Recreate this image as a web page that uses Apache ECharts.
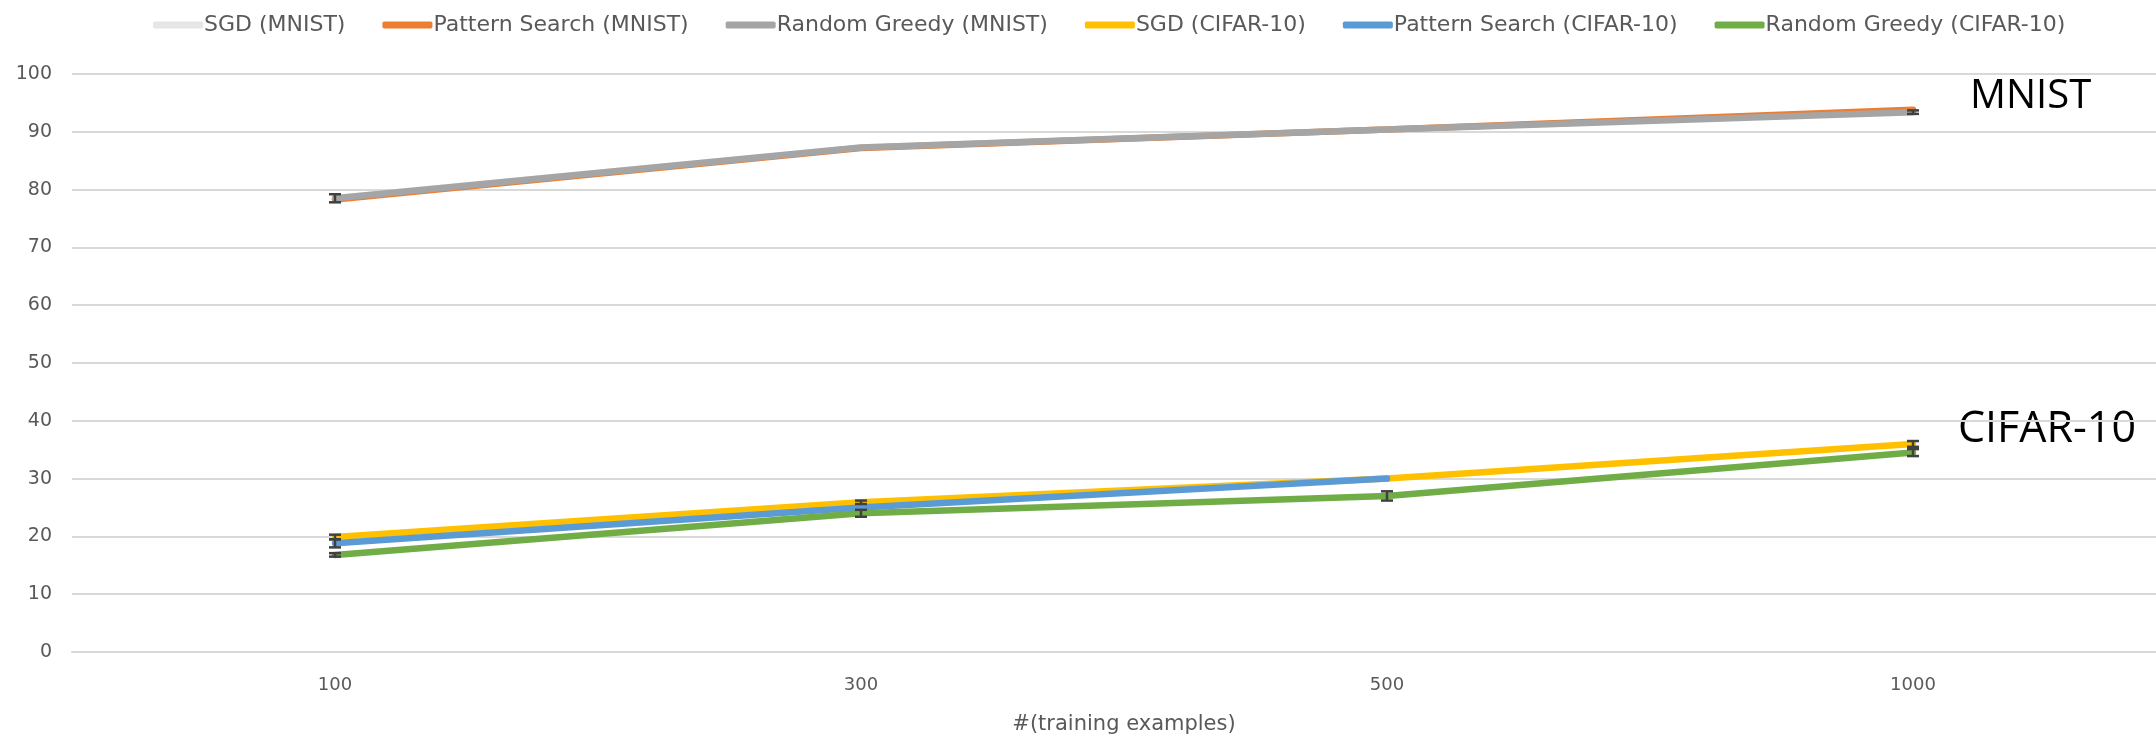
<!DOCTYPE html>
<html>
<head>
<meta charset="utf-8">
<script src="https://cdn.jsdelivr.net/npm/echarts@6/dist/echarts.min.js"></script>
<style>
  html, body { margin: 0; padding: 0; background: #fff; }
  #chart { width: 2156px; height: 737px; }
</style>
</head>
<body>
<div id="chart"></div>
<script>
// categories on the x axis
var sizes = ['100', '300', '500', '1000'];
var yTicks = [0, 10, 20, 30, 40, 50, 60, 70, 80, 90, 100];

// accuracy values
var sgdMnist = [78.5, 87.3, 90.4, 93.6];
var patternMnist = [78.3, 87.2, 90.4, 93.8];
var greedyMnist = [78.5, 87.3, 90.4, 93.4];
var sgdCifar = [19.9, 25.9, 30.0, 36.0];
var patternCifar = [18.8, 25.0, 30.0, null];
var greedyCifar = [16.8, 24.0, 27.0, 34.5];

// half-width of error bars (estimated)
var errGreedyMnist = [0.7, 0, 0, 0.3];
var errSgdCifar = [0.4, 0.3, 0, 0.5];
var errPatternCifar = [0.7, 0, 0, 0];
var errGreedyCifar = [0.3, 0.6, 0.8, 0.6];

var chart = echarts.init(document.getElementById('chart'));

var font = '"DejaVu Sans", sans-serif';
var noteFont = '"Open Sans", sans-serif';

function lineSeries(name, data, color) {
    return {
        name: name,
        type: 'line',
        data: data,
        symbol: 'none',
        smooth: false,
        lineStyle: { width: 6.5, color: color, cap: 'round' },
        itemStyle: { color: color },
        animation: false
    };
}

// build error bar points [x index, low, high]
var errData = [];
[[greedyMnist, errGreedyMnist], [sgdCifar, errSgdCifar],
 [patternCifar, errPatternCifar], [greedyCifar, errGreedyCifar]].forEach(function (p) {
    p[0].forEach(function (v, i) {
        if (v != null && p[1][i] > 0) {
            errData.push([i, v - p[1][i], v + p[1][i]]);
        }
    });
});

var option = {
    backgroundColor: '#fff',
    animation: false,
    legend: {
        top: 9,
        left: 148,
        itemWidth: 50,
        itemHeight: 7,
        itemGap: 37,
        icon: 'roundRect',
        textStyle: { fontFamily: font, fontSize: 22, color: '#595959', padding: [0, 0, 0, -4] },
        data: ['SGD (MNIST)', 'Pattern Search (MNIST)', 'Random Greedy (MNIST)',
               'SGD (CIFAR-10)', 'Pattern Search (CIFAR-10)', 'Random Greedy (CIFAR-10)']
    },
    grid: { left: 72, top: 74, width: 2104, height: 578, containLabel: false, outerBoundsMode: 'none' },
    xAxis: {
        type: 'category',
        data: sizes,
        boundaryGap: true,
        name: '#(training examples)',
        nameLocation: 'middle',
        nameGap: 62,
        nameTextStyle: { fontFamily: font, fontSize: 21, color: '#595959' },
        axisLine: { show: true, lineStyle: { color: '#d9d9d9', width: 2 } },
        axisTick: { show: false },
        axisLabel: { fontFamily: font, fontSize: 18, color: '#595959', margin: 24 }
    },
    yAxis: {
        type: 'value',
        min: yTicks[0],
        max: yTicks[yTicks.length - 1],
        interval: 10,
        axisLine: { show: false },
        axisTick: { show: false },
        axisLabel: { fontFamily: font, fontSize: 19, color: '#595959', margin: 20 },
        splitLine: { lineStyle: { color: '#d9d9d9', width: 2 } }
    },
    graphic: [
        { type: 'text', x: 1970, y: 97,
          style: { text: 'MNIST', font: '40px ' + noteFont, fill: '#000', verticalAlign: 'middle' } },
        { type: 'text', x: 1958, y: 430,
          style: { text: 'CIFAR-10', font: '43px ' + noteFont, fill: '#000', verticalAlign: 'middle' } }
    ],
    series: [
        lineSeries('SGD (MNIST)', sgdMnist, '#E7E6E6'),
        lineSeries('Pattern Search (MNIST)', patternMnist, '#ED7D31'),
        lineSeries('Random Greedy (MNIST)', greedyMnist, '#A5A5A5'),
        lineSeries('SGD (CIFAR-10)', sgdCifar, '#FFC000'),
        lineSeries('Pattern Search (CIFAR-10)', patternCifar, '#5B9BD5'),
        lineSeries('Random Greedy (CIFAR-10)', greedyCifar, '#70AD47'),
        {
            name: 'err',
            type: 'custom',
            data: errData,
            z: 5,
            renderItem: function (params, api) {
                var lo = api.coord([api.value(0), api.value(1)]);
                var hi = api.coord([api.value(0), api.value(2)]);
                var w = 6;
                var st = { stroke: '#404040', lineWidth: 2.5 };
                return {
                    type: 'group',
                    children: [
                        { type: 'line', shape: { x1: lo[0], y1: lo[1], x2: hi[0], y2: hi[1] }, style: st },
                        { type: 'line', shape: { x1: lo[0] - w, y1: lo[1], x2: lo[0] + w, y2: lo[1] }, style: st },
                        { type: 'line', shape: { x1: hi[0] - w, y1: hi[1], x2: hi[0] + w, y2: hi[1] }, style: st }
                    ]
                };
            }
        }
    ]
};

chart.setOption(option);
</script>
</body>
</html>
